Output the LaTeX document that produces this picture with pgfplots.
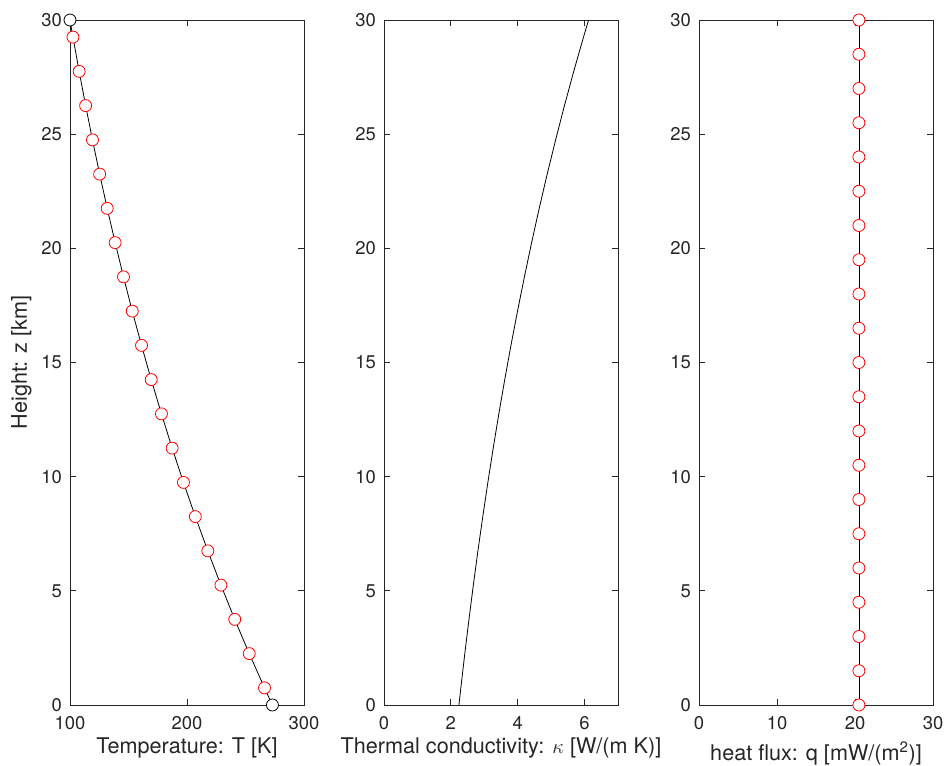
\documentclass[border=0pt]{standalone}
\usepackage{pgfplots}
\pgfplotsset{compat=1.18}
\usepackage{fontspec}
\setmainfont{TeX Gyre Heros}
\definecolor{axgray}{gray}{0.15}

% temperature at cell edges/centres, height in km
\pgfplotstableread{
z      T
0      273.00
0.75   266.23
2.25   253.19
3.75   240.79
5.25   229.00
6.75   217.78
8.25   207.12
9.75   196.97
11.25  187.32
12.75  178.15
14.25  169.42
15.75  161.13
17.25  153.23
18.75  145.73
20.25  138.59
21.75  131.81
23.25  125.35
24.75  119.21
26.25  113.37
27.75  107.82
29.25  102.54
30     100.00
}\tempdata

\pgfplotsset{
  panel/.style={
    scale only axis, width=234bp, height=685bp, anchor=south west,
    ymin=0, ymax=30, ytick={0,5,...,30},
    axis line style={axgray, line width=0.9bp},
    every tick/.style={axgray, line width=0.9bp},
    major tick length=6bp, tick align=inside, tick pos=both,
    tick label style={font=\fontsize{18.5}{22}\selectfont, text=axgray},
    /pgf/number format/assume math mode=true,
    xticklabel style={anchor=base, yshift=-24bp, inner sep=0pt},
    yticklabel style={anchor=east, xshift=-8bp, inner sep=0pt},
    label style={font=\fontsize{21.7}{26}\selectfont, text=axgray},
    xlabel style={at={(axis description cs:0.5,-0.0701)}, anchor=base, inner sep=0pt},
    clip=false,
  },
  redo/.style={only marks, mark=*, mark size=6bp,
    mark options={draw=red, fill=white, line width=0.8bp}},
}

\begin{document}
\begin{tikzpicture}
\useasboundingbox (0,0) rectangle (946bp,766bp);

% temperature
\begin{axis}[panel, at={(70bp,61bp)},
  xmin=100, xmax=300, xtick={100,200,300},
  xlabel={Temperature: T [K]},
  ylabel={Height: z [km]},
  ylabel style={at={(axis description cs:-0.1838,0.5)}, anchor=base, inner sep=0pt}]
  \addplot[black, line width=0.8bp, mark=none] table[x=T, y=z] {\tempdata};
  \addplot[redo] table[x=T, y=z, skip coords between index={0}{1}, skip coords between index={21}{22}] {\tempdata};
  \addplot[only marks, mark=*, mark size=6bp,
    mark options={draw=black, fill=white, line width=0.8bp}]
    coordinates {(273,0) (100,30)};
\end{axis}

% thermal conductivity
\begin{axis}[panel, at={(384bp,61bp)},
  xmin=0, xmax=7, xtick={0,2,4,6},
  xlabel={Thermal conductivity: $\kappa$ [W/(m K)]}]
  \addplot[black, line width=0.8bp, mark=none] coordinates {
    (2.242,0) (2.299,0.75) (2.417,2.25) (2.542,3.75) (2.672,5.25)
    (2.810,6.75) (2.955,8.25) (3.107,9.75) (3.267,11.25) (3.435,12.75)
    (3.612,14.25) (3.798,15.75) (3.994,17.25) (4.200,18.75) (4.416,20.25)
    (4.643,21.75) (4.882,23.25) (5.134,24.75) (5.398,26.25) (5.676,27.75)
    (5.968,29.25) (6.120,30)
  };
\end{axis}

% heat flux
\begin{axis}[panel, at={(699bp,61bp)},
  xmin=0, xmax=30, xtick={0,10,20,30},
  xlabel={heat flux: q [mW/(m\textsuperscript{2})]},
  xlabel style={at={(axis description cs:0.5,-0.0803)}}]
  \addplot[black, line width=0.8bp, mark=none] coordinates {(20.5,0) (20.5,30)};
  \addplot[redo] coordinates {
    (20.5,0) (20.5,1.5) (20.5,3) (20.5,4.5) (20.5,6) (20.5,7.5) (20.5,9)
    (20.5,10.5) (20.5,12) (20.5,13.5) (20.5,15) (20.5,16.5) (20.5,18)
    (20.5,19.5) (20.5,21) (20.5,22.5) (20.5,24) (20.5,25.5) (20.5,27)
    (20.5,28.5) (20.5,30)
  };
\end{axis}
\end{tikzpicture}
\end{document}
